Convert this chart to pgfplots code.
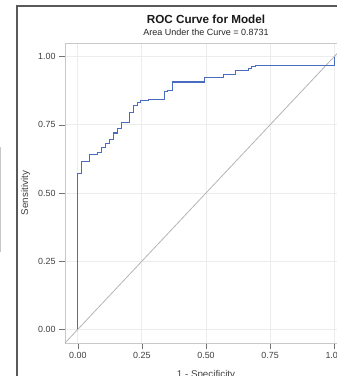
\documentclass[border=0pt]{standalone}
\usepackage{fontspec}
\setmainfont{Liberation Sans}
\usepackage{pgfplots}
\pgfplotsset{compat=1.18}
\definecolor{roc}{HTML}{4A6CC0}
\definecolor{gridc}{HTML}{ECECEC}
\definecolor{framec}{HTML}{C8C8C8}
\definecolor{tickc}{HTML}{404040}
\definecolor{diagc}{HTML}{B4B4B4}
\begin{document}
\begin{tikzpicture}[x=1pt,y=1pt]
\path[use as bounding box] (0,0) rectangle (337,376);
\clip (0,0) rectangle (337,376);
\draw[color=black!65, line width=1.8pt] (17,-5) -- (17,370) -- (345,370);
\draw[color=black!22, line width=1pt] (0.5,124) -- (0.5,229);
\begin{axis}[
  at={(65pt,33pt)}, anchor=south west,
  scale only axis, width=282pt, height=300pt,
  xmin=-0.05, xmax=1.05, ymin=-0.05, ymax=1.05,
  clip=false,
  xtick={0,0.25,0.5,0.75,1}, ytick={0,0.25,0.5,0.75,1},
  xticklabels={0.00,0.25,0.50,0.75,1.00},
  yticklabels={0.00,0.25,0.50,0.75,1.00},
  tick label style={font=\fontsize{8.9}{10}\selectfont, color=tickc},
  tick align=outside, tick pos=left,
  major tick length=6pt,
  major tick style={color=black!55, line width=0.6pt},
  axis line style={color=framec, line width=0.9pt},
  grid=major,
  major grid style={color=gridc, line width=0.9pt},
  xlabel={1 - Specificity},
  ylabel={Sensitivity},
  label style={font=\fontsize{9.8}{11}\selectfont, color=tickc},
  xlabel style={at={(axis description cs:0.5,-0.106)}, anchor=center},
  ylabel style={at={(axis description cs:-0.14,0.5)}, anchor=center, rotate=0},
]
\addplot[diagc, line width=0.8pt] coordinates {(-0.05,-0.05) (1.05,1.05)};
\addplot[roc, line width=1.1pt, const plot] coordinates {
(0,0) (0,0.572) (0.016,0.614) (0.047,0.640) (0.078,0.648) (0.092,0.667)
(0.108,0.683) (0.125,0.695) (0.140,0.720) (0.155,0.735) (0.170,0.758)
(0.200,0.795) (0.216,0.820) (0.232,0.833) (0.245,0.838) (0.277,0.844)
(0.339,0.872) (0.350,0.877) (0.370,0.907) (0.493,0.925) (0.569,0.933)
(0.615,0.949) (0.665,0.955) (0.678,0.964) (0.694,0.969) (1.0,1.0)
};
\node[font=\bfseries\fontsize{11.7}{13}\selectfont, color=black!90] at (rel axis cs:0.5,1.08) {ROC Curve for Model};
\node[font=\fontsize{9}{10}\selectfont, color=black!85] at (rel axis cs:0.5,1.036) {Area Under the Curve = 0.8731};
\end{axis}
\end{tikzpicture}
\end{document}
